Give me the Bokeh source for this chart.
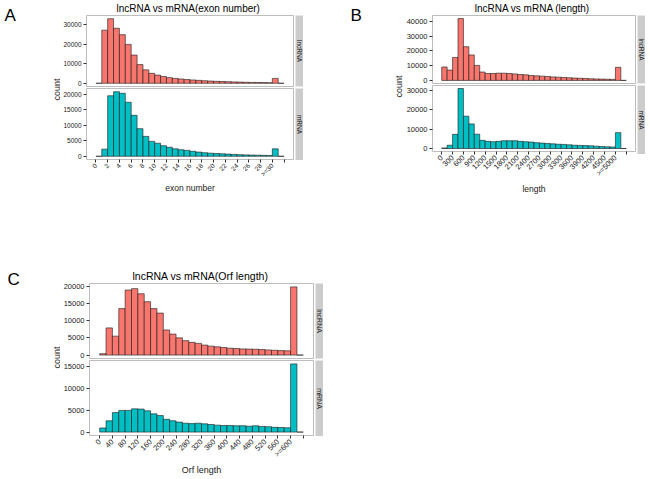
import numpy as np
from math import pi
from bokeh.plotting import figure
from bokeh.models import Range1d, FixedTicker, Label, BasicTickFormatter
from bokeh.layouts import row, column
from bokeh.embed import file_html
from bokeh.resources import INLINE

FONT = "Liberation Sans"
LNC_COLOR = "#F8766D"
MRNA_COLOR = "#00BFC4"

# ---------------- data ----------------
# Panel A: exon number (bins of width 1 starting at 0; bin [30,31] is ">=30")
exon_bin_width = 1
exon_lncRNA = [0, 27300, 33200, 28300, 25000, 20000, 14500, 9600, 6900, 5100,
               4200, 3500, 2900, 2500, 2200, 1900, 1700, 1500, 1300, 1150,
               1000, 900, 800, 700, 600, 500, 450, 400, 350, 300, 2500, 0]
exon_mRNA = [0, 2300, 19500, 20800, 20300, 17400, 13200, 8900, 6400, 4800,
             4200, 3400, 2900, 2400, 2100, 1900, 1600, 1350, 1150, 1000,
             900, 800, 700, 600, 500, 450, 400, 350, 300, 250, 2400, 0]
exon_ticks = [0, 2, 4, 6, 8, 10, 12, 14, 16, 18, 20, 22, 24, 26, 28, 30, 32]
exon_tick_labels = ["0", "2", "4", "6", "8", "10", "12", "14", "16", "18", "20",
                    "22", "24", "26", "28", ">=30", ""]
exon_lnc_yticks = [0, 10000, 20000, 30000]
exon_mrna_yticks = [0, 5000, 10000, 15000, 20000]

# Panel B: length (bins of width 150 starting at 0; bin [4800,4950] is ">=5000")
length_bin_width = 150
length_lncRNA = [9100, 7000, 15600, 42000, 22900, 17300, 10200, 5700, 4700, 4700,
                 4900, 4900, 4700, 4400, 4000, 3800, 3300, 3100, 2900, 2700,
                 2400, 2200, 2000, 1800, 1600, 1450, 1300, 1100, 1000, 900,
                 800, 700, 8900, 0]
length_mRNA = [300, 1700, 7300, 31000, 16700, 12700, 7400, 4200, 3700, 3500,
               3700, 4000, 4000, 4000, 3700, 3500, 3300, 3000, 2800, 2600,
               2400, 2200, 2100, 1900, 1700, 1600, 1500, 1400, 1200, 1000,
               900, 800, 8200, 0]
length_ticks = [0, 300, 600, 900, 1200, 1500, 1800, 2100, 2400, 2700, 3000,
                3300, 3600, 3900, 4200, 4500, 4800, 5100]
length_tick_labels = ["0", "300", "600", "900", "1200", "1500", "1800", "2100",
                      "2400", "2700", "3000", "3300", "3600", "3900", "4200",
                      "4500", ">=5000", ""]
length_lnc_yticks = [0, 10000, 20000, 30000, 40000]
length_mrna_yticks = [0, 10000, 20000, 30000]

# Panel C: Orf length (bins of width 20 starting at 0; bin [600,620] is ">=600")
orf_bin_width = 20
orf_lncRNA = [400, 7900, 5500, 13500, 18900, 19300, 17800, 15500, 13500, 12200,
              7300, 6100, 5000, 4200, 3700, 3400, 2900, 2600, 2400, 2200,
              2000, 1900, 1800, 1750, 1700, 1600, 1500, 1400, 1300, 1250,
              19800, 0]
orf_mRNA = [950, 2600, 4500, 5000, 5000, 5350, 5300, 4900, 4200, 3800,
            2950, 2600, 2300, 2050, 1950, 2050, 1900, 1750, 1600, 1500,
            1500, 1450, 1450, 1350, 1450, 1300, 1250, 1100, 1050, 1000,
            15700, 0]
orf_ticks = [0, 40, 80, 120, 160, 200, 240, 280, 320, 360, 400, 440, 480, 520,
             560, 600, 640]
orf_tick_labels = ["0", "40", "80", "120", "160", "200", "240", "280", "320",
                   "360", "400", "440", "480", "520", "560", ">=600", ""]
orf_lnc_yticks = [0, 5000, 10000, 15000, 20000]
orf_mrna_yticks = [0, 5000, 10000, 15000]

facet_names = ["lncRNA", "mRNA"]


# ---------------- helpers ----------------
def base_fig(width, height, left, right, top, bottom, **kw):
    p = figure(width=width, height=height, output_backend="svg",
               toolbar_location=None, title=None,
               min_border_left=left, min_border_right=right,
               min_border_top=top, min_border_bottom=bottom, **kw)
    p.border_fill_color = "white"
    return p


def blank_fig(width, height, bg="white"):
    s = base_fig(width, height, 0, 0, 0, 0,
                 x_range=Range1d(0, 1), y_range=Range1d(0, 1),
                 x_axis_location=None, y_axis_location=None)
    s.xgrid.visible = False
    s.ygrid.visible = False
    s.background_fill_color = bg
    s.outline_line_color = None
    return s


def facet(counts, binw, color, yticks, fw, fh, left, top, bottom, tfont,
          ticks=None, tick_labels=None, xlabel=None, xlabel_size="8.5px"):
    xmax = len(counts) * binw
    ymax = max(counts)
    p = base_fig(left + fw + 2, top + fh + bottom, left, 2, top, bottom,
                 x_range=Range1d(-0.05 * xmax, 1.05 * xmax),
                 y_range=Range1d(-0.05 * ymax, 1.05 * ymax),
                 x_axis_location="below" if ticks is not None else None)
    p.xgrid.visible = False
    p.ygrid.visible = False
    p.background_fill_color = "white"
    p.outline_line_color = "#bdbdbd"
    p.outline_line_width = 1

    edges = np.arange(len(counts)) * binw
    p.quad(left=edges, right=edges + binw, bottom=0, top=counts,
           fill_color=color, line_color="#1a1a1a", line_width=0.6)

    axes = list(p.yaxis) + (list(p.xaxis) if ticks is not None else [])
    for ax in axes:
        ax.axis_line_color = None
        ax.major_tick_out = 3
        ax.major_tick_in = 0
        ax.minor_tick_line_color = None
        ax.major_tick_line_color = "#333333"
        ax.major_label_text_font = FONT
        ax.major_label_text_font_size = tfont
        ax.major_label_text_color = "#1a1a1a"
        ax.major_label_standoff = 2
    p.yaxis.ticker = FixedTicker(ticks=yticks, minor_ticks=[])
    p.yaxis.formatter = BasicTickFormatter(use_scientific=False)
    if ticks is not None:
        p.xaxis.ticker = FixedTicker(ticks=ticks, minor_ticks=[])
        p.xaxis.major_label_overrides = {t: l for t, l in zip(ticks, tick_labels)}
        p.xaxis.major_label_orientation = pi / 4
        p.xaxis.axis_label = xlabel
        p.xaxis.axis_label_standoff = 0
        p.xaxis.axis_label_text_font = FONT
        p.xaxis.axis_label_text_font_style = "normal"
        p.xaxis.axis_label_text_font_size = xlabel_size
        p.xaxis.axis_label_text_color = "#1a1a1a"
    return p


def strip(height, top, bottom, text, fsize):
    s = base_fig(8, height, 0, 0, top, bottom,
                 x_range=Range1d(0, 1), y_range=Range1d(0, 1),
                 x_axis_location=None, y_axis_location=None)
    s.xgrid.visible = False
    s.ygrid.visible = False
    s.background_fill_color = "#cccccc"
    s.outline_line_color = None
    s.add_layout(Label(x=0.5, y=0.5, text=text, angle=-pi / 2,
                       text_align="center", text_baseline="middle",
                       text_font=FONT, text_font_size=fsize,
                       text_color="#1a1a1a"))
    return s


def screen_label(fig, text, x, y, size, angle=0, align="left",
                 baseline="alphabetic", color="black"):
    fig.add_layout(Label(x=x, y=y, x_units="screen", y_units="screen",
                         text=text, angle=angle, text_align=align,
                         text_baseline=baseline, text_font=FONT,
                         text_font_size=size, text_color=color))


def panel(letter, title, title_size, lnc, mrna, binw, lnc_yt, mrna_yt,
          ticks, tick_labels, xlabel, xlabel_size, tfont,
          side_w, left, fw, top, fh1, fh2, bottom, letter_xy, count_xy,
          title_xy, strip_font):
    height = top + fh1 + 1 + 1 + fh2 + bottom
    ptop = facet(lnc, binw, LNC_COLOR, lnc_yt, fw, fh1, left, 1, 1, tfont)
    pbot = facet(mrna, binw, MRNA_COLOR, mrna_yt, fw, fh2, left, 1, bottom,
                 tfont, ticks=ticks, tick_labels=tick_labels, xlabel=xlabel,
                 xlabel_size=xlabel_size)
    s_top = strip(1 + fh1 + 1, 1, 1, facet_names[0], strip_font)
    s_bot = strip(1 + fh2, 1, 0, facet_names[1], strip_font)

    # title band above the facets
    tfig = blank_fig(left + fw + 2 + 8, top - 1)
    screen_label(tfig, title, left + title_xy[0], title_xy[1], title_size,
                 align="center", baseline="bottom")

    # left band with panel letter and the shared y-axis title
    sd = blank_fig(side_w, height)
    screen_label(sd, letter, letter_xy[0], height - letter_xy[1], "17px",
                 baseline="top")
    screen_label(sd, "count", count_xy[0], height - count_xy[1], "9px",
                 angle=pi / 2, align="center", baseline="middle",
                 color="#1a1a1a")

    body = row(column(ptop, pbot), column(s_top, s_bot))
    return row(sd, column(tfig, body))


# letter_xy / count_xy: (x, y-from-top) inside the left band
panelA = panel("A", "lncRNA vs mRNA(exon number)", "10px",
               exon_lncRNA, exon_mRNA, exon_bin_width,
               exon_lnc_yticks, exon_mrna_yticks,
               exon_ticks, exon_tick_labels, "exon number", "8.5px", "6.5px",
               side_w=60, left=26, fw=207, top=15, fh1=71, fh2=72, bottom=35,
               letter_xy=(4, 5), count_xy=(56, 89), title_xy=(102, 0.5),
               strip_font="6.5px")

panelB = panel("B", "lncRNA vs mRNA (length)", "10px",
               length_lncRNA, length_mRNA, length_bin_width,
               length_lnc_yticks, length_mrna_yticks,
               length_ticks, length_tick_labels, "length", "8.5px", "7.5px",
               side_w=100, left=29, fw=203, top=15, fh1=68, fh2=69, bottom=42,
               letter_xy=(47, 5), count_xy=(95.5, 86), title_xy=(100, 0.5),
               strip_font="6.5px")

panelC = panel("C", "lncRNA vs mRNA(Orf length)", "10.5px",
               orf_lncRNA, orf_mRNA, orf_bin_width,
               orf_lnc_yticks, orf_mrna_yticks,
               orf_ticks, orf_tick_labels, "Orf length", "9px", "7.5px",
               side_w=60, left=26, fw=227, top=87, fh1=75, fh2=76, bottom=41,
               letter_xy=(7, 73), count_xy=(56, 161), title_xy=(114, 0.5),
               strip_font="7px")

layout = column(row(panelA, panelB), panelC)

open("out.html", "w").write(file_html(layout, INLINE))
